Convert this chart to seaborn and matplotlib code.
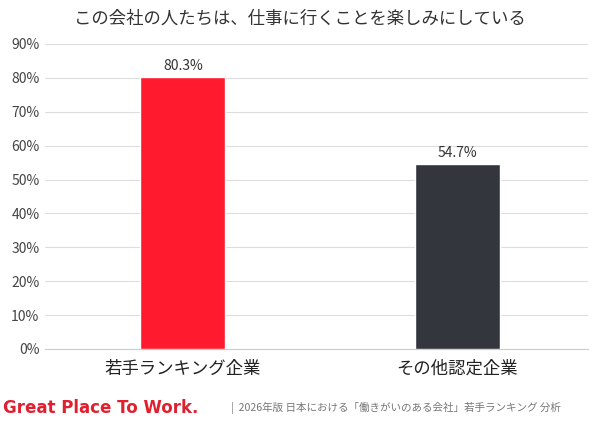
import matplotlib
matplotlib.use("Agg")
import matplotlib.pyplot as plt
import seaborn as sns
import pandas as pd

categories = ["若手ランキング企業", "その他認定企業"]
values = [80.3, 54.7]
colors = ["#ff1a2e", "#33363d"]
yticks = [0, 10, 20, 30, 40, 50, 60, 70, 80, 90]

sns.set_style("white")
plt.rcParams['font.family'] = ['Noto Sans CJK JP', 'DejaVu Sans']

fig = plt.figure(figsize=(6, 4.23), dpi=100)
ax = fig.add_axes([0.075, 0.175, 0.905, 0.721])
df = pd.DataFrame({"cat": categories, "val": values})
sns.barplot(data=df, x="cat", y="val", hue="cat", palette=colors, saturation=1, width=0.31, legend=False, ax=ax, zorder=3)
ax.set_xlim(-0.502, 1.476)
ax.set_ylim(0, 90)
ax.set_yticks(yticks)
ax.set_yticklabels([f"{t}%" for t in yticks], fontsize=10, color="#444444")
ax.tick_params(axis="x", labelsize=12.5, colors="#222222", length=0, pad=8)
ax.tick_params(axis="y", length=0, pad=4)
ax.yaxis.grid(True, color="#dddddd", linewidth=0.8, zorder=0)
for s in ["top", "right", "left"]:
    ax.spines[s].set_visible(False)
ax.spines["bottom"].set_color("#cccccc")
ax.set_xlabel("")
ax.set_ylabel("")
for i, v in enumerate(values):
    ax.text(i, v + 1.2, f"{v}%", ha="center", va="bottom", fontsize=10, color="#333333")

fig.text(0.5, 0.955, "この会社の人たちは、仕事に行くことを楽しみにしている", ha="center", va="center", fontsize=12.5, color="#333333")
fig.text(0.005, 0.035, "Great Place To Work.", ha="left", va="center", fontsize=12, fontweight="bold", color="#e0202f", family=["DejaVu Sans"])
fig.text(0.385, 0.035, "|  2026年版 日本における「働きがいのある会社」若手ランキング 分析", ha="left", va="center", fontsize=7.6, color="#777777")
fig.savefig("out.png", dpi=100, facecolor="white")
